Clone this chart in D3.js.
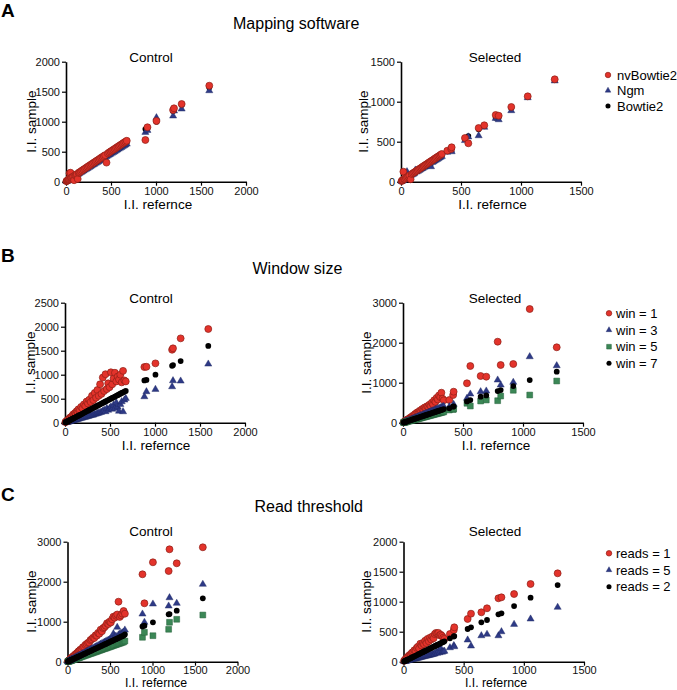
<!DOCTYPE html>
<html><head><meta charset="utf-8">
<script src="https://cdn.jsdelivr.net/npm/d3@7"></script>
<style>
body{margin:0;background:#fff;}
svg{display:block;font-family:"Liberation Sans",Arial,Helvetica,sans-serif;}
</style></head><body>
<svg id="chart" width="677" height="690"></svg>
<script>
// ---------- DATA ----------
const refControl = [5,10,15,20,25,30,35,40,45,50, 55,60,70,80,90,100,110,120,130,140, 150,165,180,195,210,225,240,255,270,285, 300,315,330,345,360,375,390,405,420,435, 450,465,480,495,510,525,540,555,570,585, 600,615,630,645,660,675, 882,905,1005,1190,1200,1285,1592];
const refSelected = [5,10,15,20,25,30,40,50,60,70, 80,90,100,110,120,130,140,150,160,170, 180,190,200,210,220,230,240,250,260,270, 280,290,300,310,320,330,340, 386,418,422,533,561,647,694,789,814,919,1056,1281];

// A: Mapping software
const mapLabels = ["nvBowtie2","Ngm","Bowtie2"];
const aCtrlNvBowtie2 = [8,14,18,24,30,35,40,140,50,150, 60,66,76,86,25,106,116,126,45,146, 157,172,188,203,218,233,248,263,278,293, 308,323,338,353,368,383,398,413,428,443, 318,472,488,503,518,532,547,562,577,592, 607,622,637,652,667,682, 695,907,1012,1195,1223,1295,1600];
const aCtrlNgm = [4,9,14,18,23,28,32,37,42,46, 51,56,65,74,84,93,102,112,121,130, 140,153,167,181,195,209,223,237,251,265, 279,293,307,321,335,349,363,377,391,405, 419,432,446,460,474,488,502,516,530,544, 558,572,586,600,614,628, 823,855,1067,1095,1180,1212,1517];
const aCtrlBowtie2 = [5,10,15,19,24,29,34,39,44,48, 53,58,68,78,87,97,107,116,126,136, 146,160,175,189,204,218,233,247,262,276, 291,306,320,335,349,364,378,393,407,422, 436,451,466,480,495,509,524,538,553,567, 582,597,611,626,640,655, 878,890,1000,1180,1200,1280,1570];
const aSelNvBowtie2 = [8,14,20,125,30,36,46,56,66,76, 30,96,106,116,126,136,146,156,166,176, 186,196,206,216,226,236,246,256,266,276, 286,296,306,316,326,336,346, 388,410,430,546,480,671,705,834,825,934,1067,1280];
const aSelNgm = [4,9,14,18,23,28,37,125,56,65, 74,84,93,102,146,121,130,140,149,158, 167,177,186,195,205,214,223,188,242,251, 260,270,279,288,298,307,316, 370,395,375,515,560,575,680,792,775,888,1050,1260];
const aSelBowtie2 = [5,10,15,19,24,29,39,48,58,68, 78,87,97,107,116,126,136,146,155,165, 175,184,194,204,213,223,233,243,252,262, 272,281,291,301,310,320,330, 380,405,415,535,571,655,695,800,805,920,1060,1275];

// B: Window size
const winLabels = ["win = 1","win = 3","win = 5","win = 7"];
const bCtrlWin1 = [12,20,25,38,42,55,50,72,65,95, 80,110,120,135,170,160,200,185,240,230, 280,260,330,300,380,350,440,400,480,430, 560,470,620,520,680,560,800,600,940,660, 1010,700,820,740,1050,800,920,1040,860,960, 900,1000,840,1080,880,860, 1160,1165,1236,1520,1549,1757,1952];
const bCtrlWin3 = [2,5,7,10,12,15,18,20,22,25, 28,30,36,40,46,50,56,60,66,72, 76,85,92,100,108,115,125,130,140,150, 155,160,175,180,195,200,215,220,240,260, 230,300,260,300,330,280,369,300,417,330, 240,380,438,229,472,507, 542,646,695,750,875,868,1222];
const bCtrlWin7 = [5,9,15,19,25,29,35,39,44,49, 54,59,69,79,88,98,108,118,128,137, 147,162,176,191,206,221,236,250,265,280, 295,309,324,339,354,368,383,398,413,427, 442,457,471,486,501,516,530,545,560,574, 589,604,619,633,648,663, 880,892,1000,1185,1202,1285,1598];
const bSelWin1 = [10,25,30,45,50,65,85,100,125,140, 170,175,215,230,260,250,300,290,340,320, 380,360,410,400,450,420,500,460,560,520, 620,580,680,640,750,600,560, 567,692,775,985,1417,1167,1150,2025,1442,1467,2842,1885];
const bSelWin3 = [6,13,17,25,29,37,47,61,71,85, 95,109,119,133,143,157,167,181,191,205, 214,229,238,253,262,277,286,301,310,326, 334,349,358,374,382,398,406, 400,420,460,610,717,775,792,1067,942,1010,1650,1425];
const bSelWin5 = [4,8,12,16,19,24,31,40,47,56, 63,72,79,88,95,104,111,120,127,136, 143,152,159,168,175,184,191,200,207,216, 223,232,239,248,255,264,271, 317,330,342,485,417,542,567,550,667,810,692,1042];
const bSelWin7 = [5,10,14,20,25,29,40,49,60,69, 80,89,100,109,120,129,140,149,160,169, 180,189,200,209,220,229,240,249,260,269, 280,289,300,309,320,329,340, 360,400,410,532,567,650,683,792,817,917,1067,1275];

// C: Read threshold
const readLabels = ["reads = 1","reads = 5","reads = 2"];
const cCtrlReads1 = [10,20,28,40,48,60,65,80,85,100, 105,120,140,150,180,190,215,225,260,270, 300,310,360,370,420,440,470,480,540,560, 600,590,660,650,720,700,800,760,840,860, 900,960,940,1000,980,1060,1125,1100,1150,1180, 1500,1120,1160,1200,1267,1200, 2185,1460,2485,2267,2810,2460,2860];
const cCtrlReads5 = [6,11,17,22,28,34,39,45,50,56, 62,67,78,90,101,112,123,134,146,157, 168,185,202,218,235,252,269,286,302,319, 336,353,370,386,403,420,437,454,470,487, 504,521,538,554,571,588,700,622,638,860, 672,689,706,722,739,792, 1192,985,1442,1392,1600,1460,1935];
const cCtrlReads2 = [5,10,15,20,25,30,34,40,44,50, 54,60,69,79,89,99,109,119,129,139, 148,163,178,193,208,223,238,252,267,282, 297,312,327,342,356,371,386,401,416,431, 445,460,475,490,505,520,535,549,564,579, 594,609,624,639,653,680, 880,900,985,1185,1190,1275,1585];
const cCtrlUnlabelled = [4,7,11,15,19,22,26,30,34,37, 41,45,52,60,67,75,82,90,97,105, 112,123,135,146,157,168,180,191,202,213, 225,236,247,258,270,281,292,303,315,326, 337,348,360,371,382,393,405,416,427,438, 450,461,472,483,495,517, 610,735,650,810,985,1060,1167];
const cSelReads1 = [15,25,35,50,55,70,90,110,120,150, 160,190,180,230,250,220,300,270,310,290, 350,310,380,340,400,370,420,390,460,480, 470,480,440,450,430,400,380, 462,528,573,712,800,823,890,1057,1073,1128,1295,1473];
const cSelReads5 = [3,5,8,10,13,15,20,25,30,36, 40,45,50,56,60,65,70,76,80,86, 90,95,100,106,110,116,120,126,130,160, 140,180,150,223,160,170,175, 233,270,250,362,262,433,457,433,500,623,712,907];
const cSelReads2 = [5,10,15,20,25,30,39,50,59,70, 79,90,99,110,119,130,139,150,159,170, 179,190,199,210,219,230,239,250,259,270, 279,290,299,310,319,330,340, 390,420,428,545,573,657,695,790,807,928,1067,1278];

// ticks
const ticks2000 = [0,500,1000,1500,2000];
const ticks1500 = [0,500,1000,1500];
const ticks2500 = [0,500,1000,1500,2000,2500];
const ticks3000k = [0,1000,2000,3000];

// ---------- STYLES ----------
const ST = {
  red:   {type: d3.symbolCircle,   size: 38, fill: "#e3332b", stroke: "#8e1f17", sw: 0.7, lsize: 24},
  blue:  {type: d3.symbolTriangle, size: 22, fill: "#2e3a86", stroke: "#1d2660", sw: 0.4, lsize: 14},
  green: {type: d3.symbolSquare,   size: 34, fill: "#3b8756", stroke: "#235f38", sw: 0.5, lsize: 22},
  black: {type: d3.symbolCircle,   size: 26, fill: "#000000", stroke: "none", sw: 0, lsize: 20}
};

const svg = d3.select("#chart");
const FONT = '"Liberation Sans",Arial,Helvetica,sans-serif';

function panel(cfg) {
  const x = d3.scaleLinear().domain([0, cfg.xMax]).range([cfg.x0, cfg.x1]);
  const y = d3.scaleLinear().domain([0, cfg.yMax]).range([cfg.yb, cfg.yt]);
  const g = svg.append("g");

  const xa = g.append("g").attr("transform", `translate(0,${cfg.yb})`)
    .call(d3.axisBottom(x).tickValues(cfg.xTicks).tickSize(4).tickSizeOuter(0).tickPadding(cfg.xPad).tickFormat(d3.format("d")));
  const ya = g.append("g").attr("transform", `translate(${cfg.x0},0)`)
    .call(d3.axisLeft(y).tickValues(cfg.yTicks).tickSize(4).tickSizeOuter(0).tickPadding(2).tickFormat(d3.format("d")));
  [xa, ya].forEach(a => {
    a.attr("font-family", FONT).attr("font-size", 11);
    a.select(".domain").attr("stroke", "#000").attr("stroke-width", 1.6);
    a.selectAll(".tick line").attr("stroke", "#000").attr("stroke-width", 1.2);
    a.selectAll(".tick text").attr("fill", "#111");
  });

  // series
  cfg.series.forEach(s => {
    const st = ST[s.color];
    const sym = d3.symbol().type(st.type).size(st.size);
    g.append("g").selectAll("path").data(s.values.map((v, i) => [s.ref[i], v]))
      .join("path")
      .attr("d", sym)
      .attr("transform", d => `translate(${x(d[0])},${y(d[1])})`)
      .attr("fill", st.fill).attr("stroke", st.stroke).attr("stroke-width", st.sw);
  });

  // titles
  g.append("text").attr("x", cfg.titleX).attr("y", cfg.titleY)
    .attr("text-anchor", "middle").attr("font-size", 13.5).text(cfg.title);
  g.append("text").attr("x", cfg.xLabelX).attr("y", cfg.yb + cfg.xLabelOff)
    .attr("text-anchor", "middle").attr("font-size", cfg.xLabelSize).text("I.I. refernce");
  const ym = (cfg.yb + cfg.yt) / 2;
  g.append("text").attr("transform", `translate(${cfg.yLabelX},${ym}) rotate(-90)`)
    .attr("text-anchor", "middle").attr("font-size", 13.5).text("I.I. sample");
}

function legend(items, lx, tx, ys) {
  items.forEach((it, i) => {
    const st = ST[it.color];
    svg.append("path").attr("d", d3.symbol().type(st.type).size(st.lsize)())
      .attr("transform", `translate(${lx},${ys[i]})`)
      .attr("fill", st.fill).attr("stroke", st.stroke).attr("stroke-width", st.sw);
    svg.append("text").attr("x", tx).attr("y", ys[i]).attr("dy", "0.35em")
      .attr("font-size", 13).text(it.label);
  });
}

function heading(letter, ly, title, tx, ty) {
  svg.append("text").attr("x", 1).attr("y", ly).attr("font-weight", "bold")
    .attr("font-size", 19).text(letter);
  svg.append("text").attr("x", tx).attr("y", ty).attr("font-size", 16).text(title);
}

// ---------- A ----------
heading("A", 17, "Mapping software", 233, 29);
panel({x0: 66, x1: 246, yb: 181.7, yt: 61.7, xMax: 2000, yMax: 2000, xTicks: ticks2000, yTicks: ticks2000,
  title: "Control", titleX: 151, titleY: 61.5, xLabelX: 158, xLabelOff: 27, xLabelSize: 13.5, xPad: 1.5, yLabelX: 36,
  series: [
    {ref: refControl, values: aCtrlBowtie2, color: "black"},
    {ref: refControl, values: aCtrlNgm, color: "blue"},
    {ref: refControl, values: aCtrlNvBowtie2, color: "red"}
  ]});
panel({x0: 401, x1: 581, yb: 181.7, yt: 61.7, xMax: 1500, yMax: 1500, xTicks: ticks1500, yTicks: ticks1500,
  title: "Selected", titleX: 495, titleY: 61.5, xLabelX: 492.5, xLabelOff: 27, xLabelSize: 13.5, xPad: 1.5, yLabelX: 368,
  series: [
    {ref: refSelected, values: aSelBowtie2, color: "black"},
    {ref: refSelected, values: aSelNgm, color: "blue"},
    {ref: refSelected, values: aSelNvBowtie2, color: "red"}
  ]});
legend([{label: mapLabels[0], color: "red"}, {label: mapLabels[1], color: "blue"}, {label: mapLabels[2], color: "black"}],
  608, 617, [75, 90.5, 106]);

// ---------- B ----------
heading("B", 261.5, "Window size", 252.5, 273.5);
panel({x0: 65, x1: 245, yb: 422.7, yt: 302.7, xMax: 2000, yMax: 2500, xTicks: ticks2000, yTicks: ticks2500,
  title: "Control", titleX: 151, titleY: 303.3, xLabelX: 156, xLabelOff: 27.5, xLabelSize: 13.5, xPad: 1.5, yLabelX: 35,
  series: [
    {ref: refControl, values: bCtrlWin3, color: "blue"},
    {ref: refControl, values: bCtrlWin1, color: "red"},
    {ref: refControl, values: bCtrlWin7, color: "black"}
  ]});
panel({x0: 403, x1: 583, yb: 422.7, yt: 302.7, xMax: 1500, yMax: 3000, xTicks: ticks1500, yTicks: ticks3000k,
  title: "Selected", titleX: 495, titleY: 303.3, xLabelX: 496, xLabelOff: 27, xLabelSize: 13.5, xPad: 1.5, yLabelX: 371,
  series: [
    {ref: refSelected, values: bSelWin1, color: "red"},
    {ref: refSelected, values: bSelWin3, color: "blue"},
    {ref: refSelected, values: bSelWin5, color: "green"},
    {ref: refSelected, values: bSelWin7, color: "black"}
  ]});
legend([{label: winLabels[0], color: "red"}, {label: winLabels[1], color: "blue"}, {label: winLabels[2], color: "green"}, {label: winLabels[3], color: "black"}],
  609, 616, [313.3, 330, 346.7, 363.3]);

// ---------- C ----------
heading("C", 501, "Read threshold", 254.5, 512);
panel({x0: 67.5, x1: 237.5, yb: 661.7, yt: 541.7, xMax: 2000, yMax: 3000, xTicks: ticks2000, yTicks: ticks3000k,
  title: "Control", titleX: 151, titleY: 536.3, xLabelX: 156, xLabelOff: 25.6, xLabelSize: 12.3, xPad: 0.5, yLabelX: 36,
  series: [
    {ref: refControl, values: cCtrlReads1, color: "red"},
    {ref: refControl, values: cCtrlUnlabelled, color: "green"},
    {ref: refControl, values: cCtrlReads5, color: "blue"},
    {ref: refControl, values: cCtrlReads2, color: "black"}
  ]});
panel({x0: 403.5, x1: 584, yb: 661.7, yt: 541.7, xMax: 1500, yMax: 2000, xTicks: ticks1500, yTicks: ticks2000,
  title: "Selected", titleX: 495, titleY: 536.3, xLabelX: 496, xLabelOff: 25.6, xLabelSize: 12.3, xPad: 0.5, yLabelX: 370.5,
  series: [
    {ref: refSelected, values: cSelReads5, color: "blue"},
    {ref: refSelected, values: cSelReads1, color: "red"},
    {ref: refSelected, values: cSelReads2, color: "black"}
  ]});
legend([{label: readLabels[0], color: "red"}, {label: readLabels[1], color: "blue"}, {label: readLabels[2], color: "black"}],
  609, 616, [553.3, 570, 586.7]);
</script>
</body></html>
